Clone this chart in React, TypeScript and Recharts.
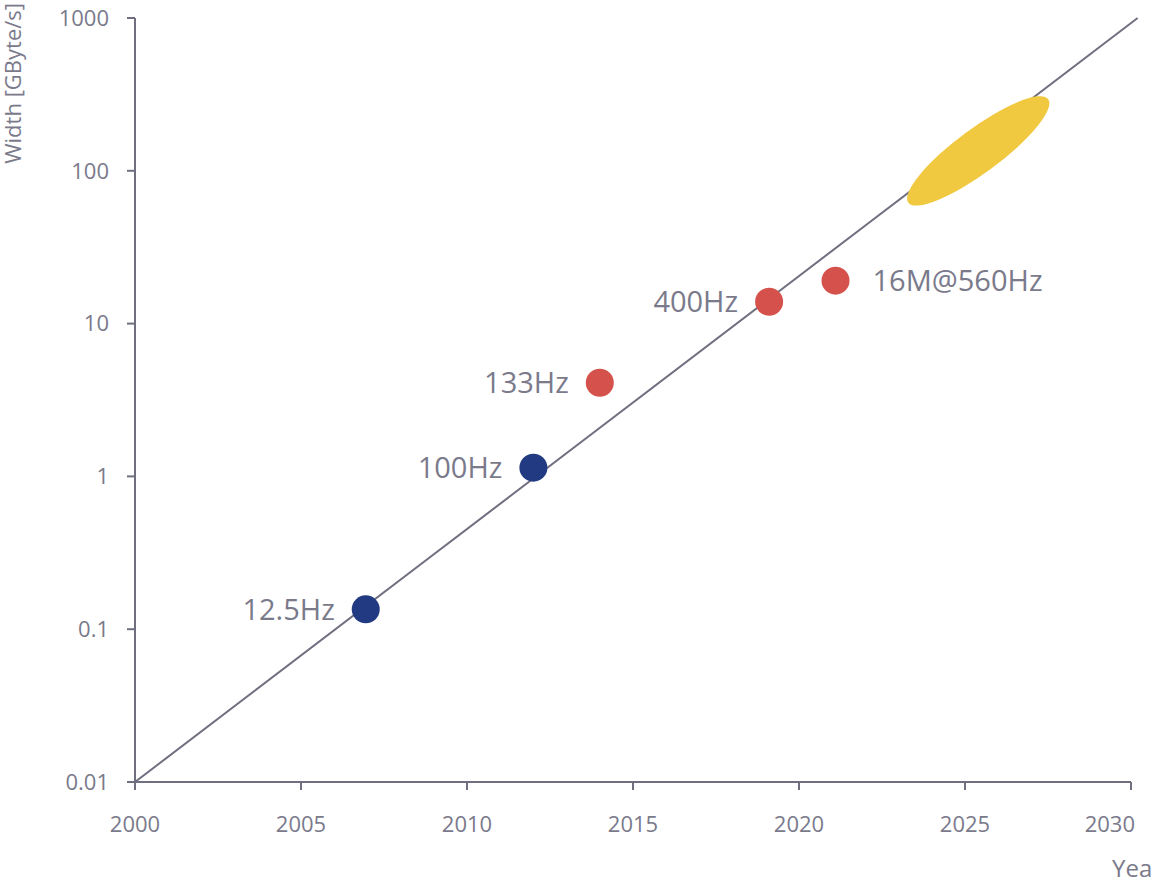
import React from "react";
import {
  ScatterChart,
  Scatter,
  XAxis,
  YAxis,
  ReferenceLine,
} from "recharts";

// ---- data ----
const blueYears = [2006.95, 2012.0];
const blueValues = [0.135, 1.14];
const blueLabels = ["12.5Hz", "100Hz"];

const redYears = [2014.0, 2019.1, 2021.1];
const redValues = [4.1, 13.9, 19.1];
const redLabels = ["133Hz", "400Hz", "16M@560Hz"];

const trendYears = [2000, 2030.2];
const trendValues = [0.01, 1000];

const targetYears = [2025.4];
const targetValues = [135];

const xTicks = [2000, 2005, 2010, 2015, 2020, 2025, 2030];
const yTicks = [0.01, 0.1, 1, 10, 100, 1000];
const yTickLabels = ["0.01", "0.1", "1", "10", "100", "1000"];

const xTitle = "Year";
const yTitle = "Width [GByte/s]";

// ---- build ----
const blueData = blueYears.map((year, i) => ({ year, value: blueValues[i], label: blueLabels[i] }));
const redData = redYears.map((year, i) => ({ year, value: redValues[i], label: redLabels[i] }));
const targetData = targetYears.map((year, i) => ({ year, value: targetValues[i] }));

const AXIS = "#6f6f80";
const TEXT = "#7a7a8b";
const FONT = "'Open Sans', sans-serif";
const rightLabelled = new Set(["16M@560Hz"]);

const makeDot = (fill: string) => (props: any) => {
  const { cx, cy, payload } = props;
  const right = rightLabelled.has(payload.label);
  return (
    <g>
      <circle cx={cx} cy={cy} r={14} fill={fill} />
      <text
        x={right ? cx + 37 : cx - 31}
        y={cy}
        dy="0.355em"
        textAnchor={right ? "start" : "end"}
        fontSize={29}
        fontFamily={FONT}
        fill={TEXT}
      >
        {payload.label}
      </text>
    </g>
  );
};

const ellipseShape = (props: any) => {
  const { cx, cy } = props;
  return (
    <ellipse
      cx={cx}
      cy={cy}
      rx={87}
      ry={22}
      fill="#f1c940"
      transform={`rotate(-36.5 ${cx} ${cy})`}
    />
  );
};

const XTick = (props: any) => {
  const { x, y, payload, index } = props;
  const last = index === xTicks.length - 1;
  return (
    <text
      x={last ? x + 4 : x}
      y={y}
      dy="0.71em"
      textAnchor={last ? "end" : "middle"}
      fontSize={22}
      fontFamily={FONT}
      fill={TEXT}
    >
      {payload.value}
    </text>
  );
};

export default function App() {
  return (
    <div
      style={{
        position: "absolute",
        left: 0,
        top: 0,
        width: 1153,
        height: 879,
        overflow: "hidden",
        background: "#ffffff",
      }}
    >
      <ScatterChart
        width={1153}
        height={879}
        margin={{ top: 18, right: 22, left: 0, bottom: 0 }}
      >
        <XAxis
          dataKey="year"
          type="number"
          domain={[2000, 2030]}
          ticks={xTicks}
          allowDataOverflow
          height={97}
          axisLine={{ stroke: AXIS, strokeWidth: 2 }}
          tickLine={{ stroke: AXIS, strokeWidth: 2 }}
          tickSize={8}
          tickMargin={26}
          tick={<XTick />}
          label={{
            content: () => (
              <text x={1112} y={877} textAnchor="start" fontSize={24} fontFamily={FONT} fill={TEXT}>
                {xTitle}
              </text>
            ),
          }}
        />
        <YAxis
          dataKey="value"
          type="number"
          scale="log"
          domain={[0.01, 1000]}
          ticks={yTicks}
          allowDataOverflow
          width={135}
          axisLine={{ stroke: AXIS, strokeWidth: 2 }}
          tickLine={{ stroke: AXIS, strokeWidth: 2 }}
          tickSize={8}
          tickMargin={18}
          tickFormatter={(v: number) => yTickLabels[yTicks.indexOf(v)] ?? String(v)}
          tick={{ fontSize: 22, fill: TEXT, fontFamily: FONT }}
          label={{
            content: () => (
              <text
                x={0}
                y={0}
                transform="translate(21,3) rotate(-90)"
                textAnchor="end"
                fontSize={22}
                fontFamily={FONT}
                fill={TEXT}
              >
                {yTitle}
              </text>
            ),
          }}
        />
        <ReferenceLine
          segment={[
            { x: trendYears[0], y: trendValues[0] },
            { x: trendYears[1], y: trendValues[1] },
          ]}
          stroke={AXIS}
          strokeWidth={2}
          ifOverflow="visible"
        />
        <Scatter data={targetData} fill="#f1c940" shape={ellipseShape} isAnimationActive={false} />
        <Scatter data={blueData} fill="#213a82" shape={makeDot("#213a82")} isAnimationActive={false} />
        <Scatter data={redData} fill="#d5524c" shape={makeDot("#d5524c")} isAnimationActive={false} />
      </ScatterChart>
    </div>
  );
}
